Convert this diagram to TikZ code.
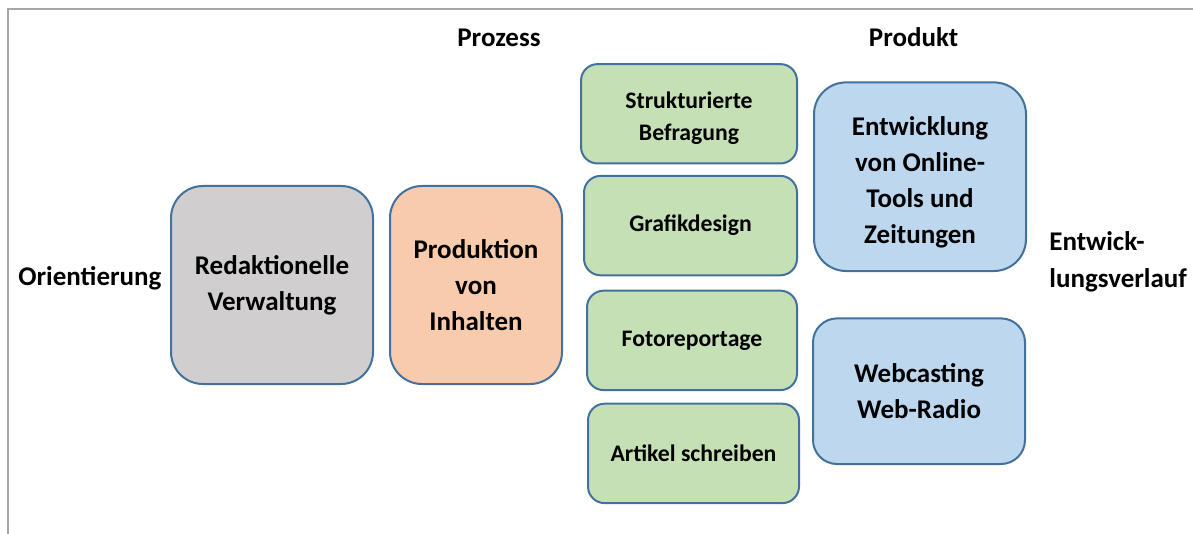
\documentclass[tikz,border=0pt]{standalone}
\usepackage{fontspec}
\setmainfont{Carlito}
\usetikzlibrary{positioning}
\definecolor{rahmen}{HTML}{41719C}
\definecolor{grau}{HTML}{D0CECE}
\definecolor{orange}{HTML}{F8CBAD}
\definecolor{gruen}{HTML}{C5E0B4}
\definecolor{blau}{HTML}{BDD7EE}
\definecolor{linie}{HTML}{A6A6A6}
\begin{document}
\begin{tikzpicture}[x=0.5pt, y=-0.5pt,
	feld/.style={draw=rahmen, line width=1pt, align=center, inner sep=0pt, font=\bfseries\fontsize{13.5}{18}\selectfont},
	grossfeld/.style={feld, rounded corners=16pt},
	gruenfeld/.style={feld, fill=gruen, rounded corners=8.3pt, minimum height=49.7pt, font=\bfseries\fontsize{11.85}{15.9}\selectfont},
	titel/.style={align=left, inner sep=0pt, font=\bfseries\fontsize{13.5}{18.3}\selectfont}]

		\useasboundingbox (0,0) rectangle (1193,534);
		\draw[linie, line width=1pt] (7.7,534) -- (7.7,9.2) -- (1193,9.2);

		\node[titel, anchor=west] (O) 	at (18,278) 													{Orientierung};
		\node[titel] (Pz) 							at (499,37.5) 												{Prozess};
		\node[titel] (Pd) 							at (913.6,37) 												{Produkt};
		\node[titel, anchor=west] (E) 	at (1049,262) 												{Entwick-\\lungsverlauf};

		\node[grossfeld, fill=grau, minimum width=101pt, minimum height=99pt] (R) 		at (272,285) 		{Redaktionelle\\Verwaltung};
		\node[grossfeld, fill=orange, minimum width=86pt, minimum height=99pt] (P) 		[right=7.5pt of R] 	{Produktion\\von\\Inhalten};

		\node[gruenfeld, minimum width=108pt, text height=38.2pt, text depth=11.3pt] (G1) 	at (689,113.8) 		{Strukturierte\\Befragung};
		\node[gruenfeld, minimum width=106.5pt] (G2) 	[below=5.2pt of G1, xshift=0.75pt] 	{Grafikdesign};
		\node[gruenfeld, minimum width=105pt] (G3) 		[below=6.7pt of G2, xshift=0.75pt] 	{Fotoreportage};
		\node[gruenfeld, minimum width=105.5pt] (G4) 	[below=5.8pt of G3, xshift=0.75pt] 	{Artikel schreiben};

		\node[grossfeld, fill=blau, minimum width=106pt, minimum height=94.3pt, text height=80.6pt, text depth=13.5pt] (B1) 	at (920,176.7) 	{Entwicklung\\von Online-\\Tools und\\Zeitungen};
		\node[grossfeld, fill=blau, minimum width=106pt, minimum height=72.8pt, rounded corners=12pt] (B2) 	at (919,391.2) 	{Webcasting\\Web-Radio};

	\end{tikzpicture}
\end{document}
